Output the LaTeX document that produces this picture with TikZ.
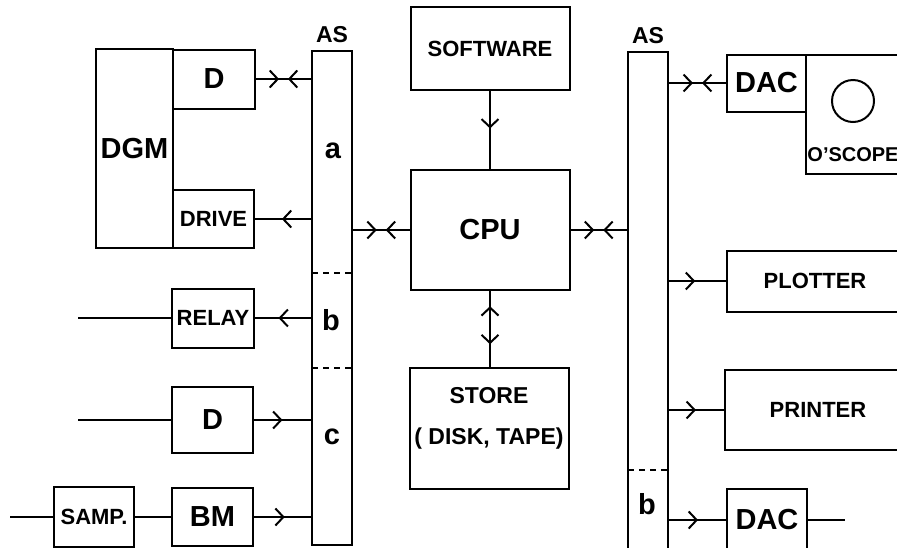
\documentclass[tikz,border=0pt]{standalone}
\usepackage{fontspec}
\setmainfont{Liberation Sans}
\usetikzlibrary{arrows.meta,decorations.markings}

\tikzset{
    barb/.tip={Straight Barb[length=8pt,width=17pt]},
    blk/.style={draw, line width=2pt, inner sep=0pt,
        font=\bfseries\fontsize{22}{24}\selectfont},
    bigtxt/.style={font=\bfseries\fontsize{29}{31}\selectfont},
    midtxt/.style={font=\bfseries\fontsize{23}{25}\selectfont},
    wire/.style={line width=2pt},
    divider/.style={line width=2pt, dash pattern=on 6pt off 5pt},
    onearr/.style={postaction={decorate, decoration={markings,
        mark=at position #1 with {\arrow{barb}}}}},
    onearr/.default=0.52,
    meet/.style={postaction={decorate, decoration={markings,
        mark=at position 0.42 with {\arrow{barb}},
        mark=at position 0.58 with {\arrowreversed{barb}}}}},
    twoway/.style={postaction={decorate, decoration={markings,
        mark=at position 0.2 with {\arrowreversed{barb}},
        mark=at position 0.7 with {\arrow{barb}}}}}
}

\begin{document}
\begin{tikzpicture}[x=1pt, y=-1pt]
\useasboundingbox (0,0) rectangle (897,547);

% =====================
% LEFT SIDE
% =====================
\node[blk, bigtxt, minimum width=77, minimum height=199] at (134.5,148.5) (dgm) {DGM};
\node[blk, bigtxt, minimum width=82, minimum height=59] at (214,79) (dtop) {D};
\node[blk, minimum width=81, minimum height=58] at (213.5,219) (drive) {DRIVE};
\node[blk, minimum width=82, minimum height=59] at (213,318) (relay) {RELAY};
\node[blk, bigtxt, minimum width=81, minimum height=66] at (212.5,420) (dlow) {D};
\node[blk, bigtxt, minimum width=81, minimum height=58] at (212.5,517) (bm) {BM};
\node[blk, minimum width=80, minimum height=60] at (94,517) (samp) {SAMP.};

% left bus
\node[blk, minimum width=40, minimum height=494] at (332,298) (asL) {};
\node[midtxt] at (332,35) (asLlab) {AS};
\draw[divider] (312,273) -- (352,273);
\draw[divider] (312,368) -- (352,368);
\node[bigtxt] at (333,151) {a};
\node[bigtxt] at (331,320) {b};
\node[bigtxt] at (332,437) {c};

% =====================
% CENTRE
% =====================
\node[blk, minimum width=159, minimum height=83] at (490,48.5) (software) {SOFTWARE};
\node[blk, bigtxt, minimum width=159, minimum height=120] at (490,230) (cpu) {CPU};
\node[blk, minimum width=159, minimum height=121] at (489,428.5) (store) {};
\node[midtxt, align=center, yshift=10pt] at (store.center) {STORE\\[16pt]( DISK, TAPE)};

% =====================
% RIGHT SIDE
% =====================
\node[blk, minimum width=40, minimum height=558] at (648,331) (asR) {};
\node[midtxt] at (648,36) (asRlab) {AS};
\draw[divider] (628,470) -- (668,470);
\node[bigtxt] at (647,504) {b};

\node[blk, bigtxt, minimum width=79, minimum height=57] at (766.5,83) (dac1) {DAC};
\node[blk, minimum width=134, minimum height=119] at (873,114.5) (scope) {};
\draw[line width=2pt] (853,101) circle (21);
\node[font=\bfseries\fontsize{20}{22}\selectfont] at (853,155) {O'SCOPE};
\node[blk, minimum width=176, minimum height=61] at (815,281) (plotter) {PLOTTER};
\node[blk, minimum width=186, minimum height=80] at (818,410) (printer) {PRINTER};
\node[blk, bigtxt, minimum width=80, minimum height=62] at (767,520) (dac2) {DAC};

% =====================
% CONNECTIONS
% =====================
\coordinate (relayin) at (78,318);
\coordinate (dlowin) at (78,420);
\coordinate (sampin) at (10,517);
\coordinate (dacout) at (845,520);

% left side
\draw[wire, meet] (dtop.east) -- (dtop.east -| asL.west);
\draw[wire, onearr] (drive.east -| asL.west) -- (drive.east);
\draw[wire, onearr=0.58] (relay.east -| asL.west) -- (relay.east);
\draw[wire] (relayin) -- (relay.west);
\draw[wire, onearr=0.5] (dlow.east) -- (dlow.east -| asL.west);
\draw[wire] (dlowin) -- (dlow.west);
\draw[wire, onearr=0.54] (bm.east) -- (bm.east -| asL.west);
\draw[wire] (samp) -- (bm);
\draw[wire] (sampin) -- (samp.west);

% centre
\draw[wire, meet] (cpu.west -| asL.east) -- (cpu.west);
\draw[wire, onearr=0.48] (software.south) -- (software.south |- cpu.north);
\draw[wire, twoway] (cpu.south) -- (cpu.south |- store.north);
\draw[wire, meet] (cpu.east) -- (cpu.east -| asR.west);

% right side
\draw[wire, meet] (dac1.west -| asR.east) -- (dac1.west);
\draw[wire, onearr=0.46] (plotter.west -| asR.east) -- (plotter.west);
\draw[wire, onearr=0.49] (printer.west -| asR.east) -- (printer.west);
\draw[wire, onearr=0.51] (dac2.west -| asR.east) -- (dac2.west);
\draw[wire] (dac2.east) -- (dacout);

\end{tikzpicture}
\end{document}
